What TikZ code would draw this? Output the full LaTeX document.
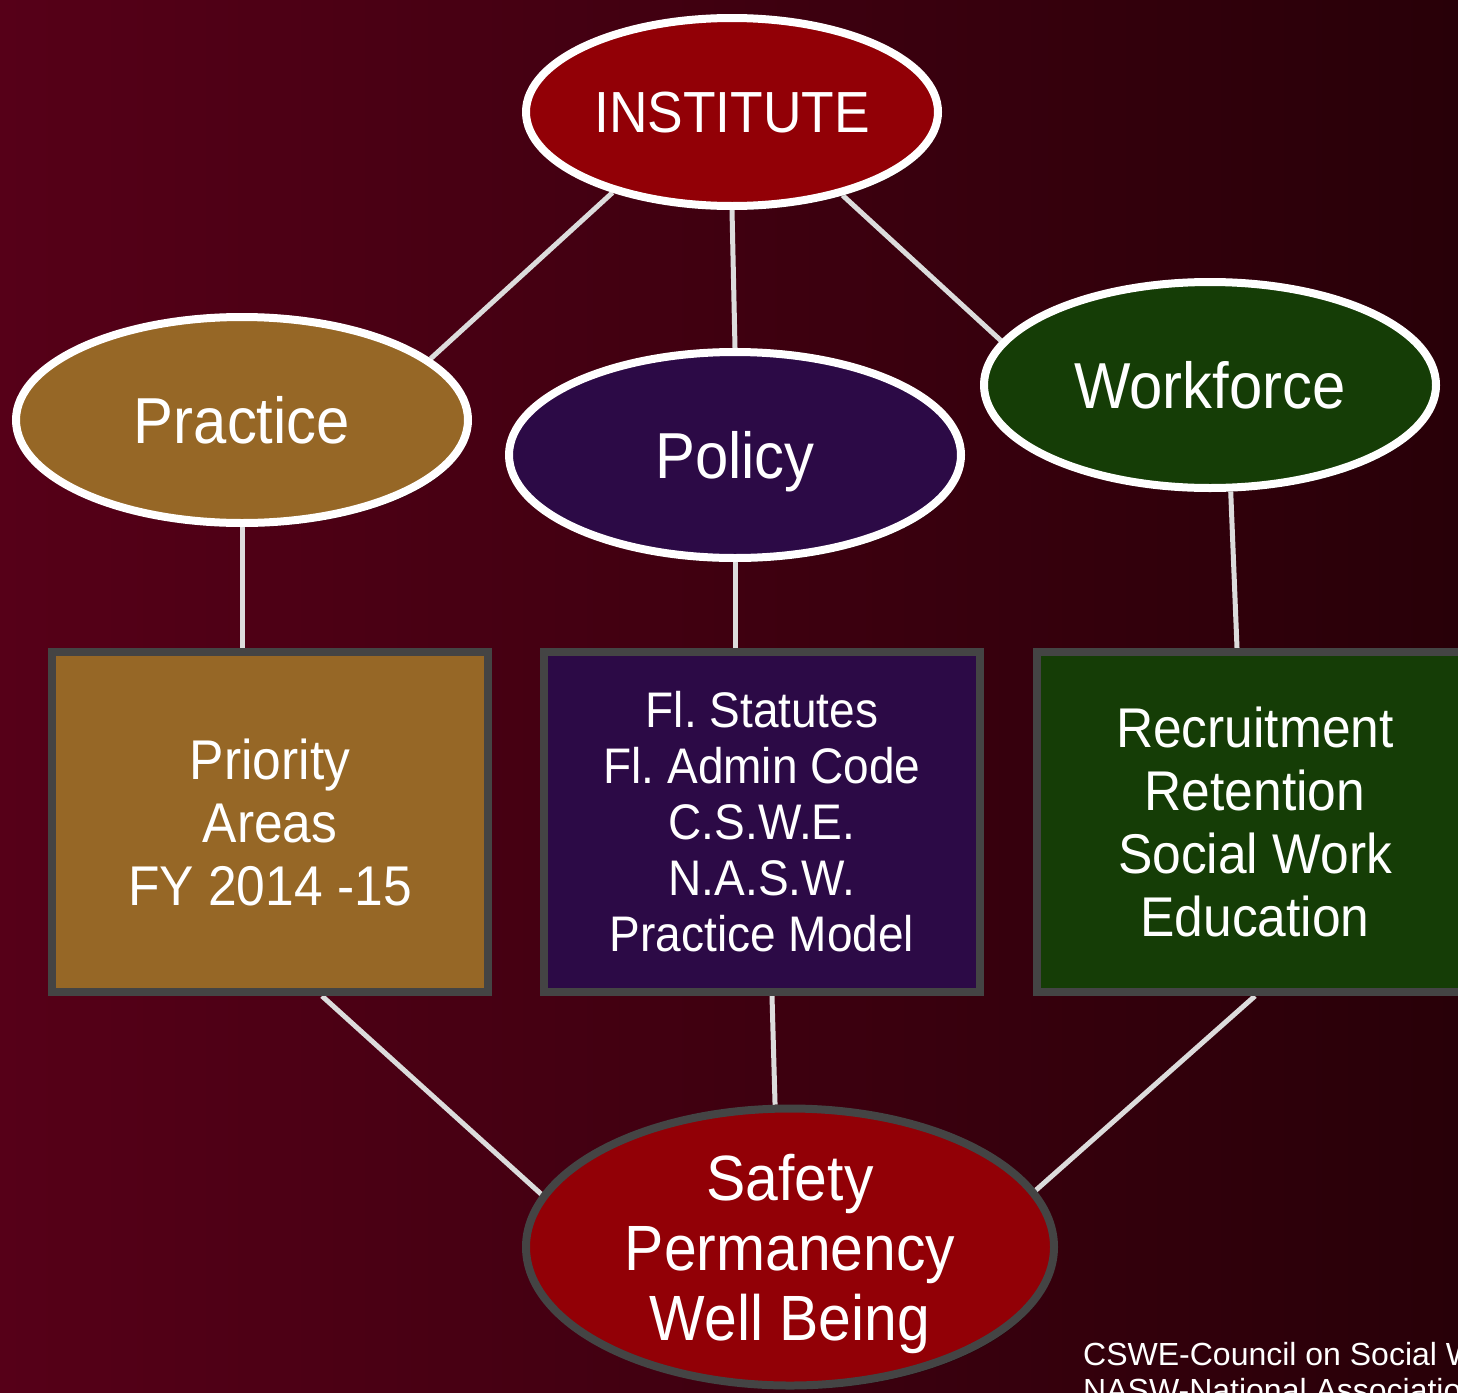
\documentclass[tikz,border=0pt]{standalone}
\usepackage{fontspec}
\setmainfont{Liberation Sans}
\newfontfamily\diagfont{Liberation Sans}[FakeStretch=0.92]
\usetikzlibrary{shapes.geometric,shadows,positioning,calc}

\definecolor{bgleft}{RGB}{86,0,24}
\definecolor{bgright}{RGB}{40,0,8}
\definecolor{instred}{RGB}{146,0,6}
\definecolor{pracgold}{RGB}{150,103,38}
\definecolor{polpurple}{RGB}{44,10,70}
\definecolor{workgreen}{RGB}{21,61,6}
\definecolor{boxgray}{RGB}{68,68,68}
\definecolor{linkgray}{RGB}{220,220,220}

\pgfdeclarelayer{back}
\pgfdeclarelayer{links}
\pgfsetlayers{back,links,main}

\begin{document}
\begin{tikzpicture}[x=1pt,y=-1pt,
  shade below/.style={drop shadow={shadow xshift=2pt, shadow yshift=-4pt, opacity=0.35, fill=black}},
  oval/.style={ellipse, draw=white, line width=8pt, inner sep=0pt, text=white, align=center, shade below},
  topic/.style={oval, minimum width=452pt, minimum height=206pt, text depth=0pt,
    font=\diagfont\fontsize{65}{70}\selectfont},
  card/.style={rectangle, draw=boxgray, line width=8pt, minimum width=436pt, minimum height=340pt,
    inner sep=0pt, text=white, align=center},
  link/.style={draw=linkgray, line width=5pt}]
\useasboundingbox (0,0) rectangle (1458,1392);
\clip (0,0) rectangle (1458,1392);
\begin{pgfonlayer}{back}
  \shade[left color=bgleft, right color=bgright] (0,0) rectangle (1458,1392);
\end{pgfonlayer}

% top level
\node[oval, fill=instred, minimum width=412pt, minimum height=188pt, text depth=0pt,
  font=\diagfont\fontsize{58}{64}\selectfont] (inst) at (732,112) {INSTITUTE};

% the three areas
\node[topic, fill=pracgold] (prac) at (242,420) {Practice};
\node[topic, fill=polpurple] (pol) at (735,455) {Policy};
\node[topic, fill=workgreen] (work) at (1210,385) {Workforce};

% the three boxes
\node[card, fill=pracgold, font=\diagfont\fontsize{56}{63}\selectfont] (prio) at (270,822)
  {Priority\\Areas\\FY 2014 -15};
\node[card, fill=polpurple, font=\diagfont\fontsize{50}{56}\selectfont] (rules) at (762,822)
  {Fl.\ Statutes\\Fl.\ Admin Code\\C.S.W.E.\\N.A.S.W.\\Practice Model};
\node[card, fill=workgreen, font=\diagfont\fontsize{56}{63}\selectfont] (staff) at (1255,822)
  {Recruitment\\Retention\\Social Work\\Education};

% outcome
\node[oval, draw=boxgray, fill=instred, minimum width=528pt, minimum height=277pt, text depth=0pt,
  font=\diagfont\fontsize{64}{70}\selectfont] (safe) at (790,1247)
  {Safety\\Permanency\\Well Being};

% connectors
\begin{pgfonlayer}{links}
  \draw[link] (inst.214) -- (prac.18);
  \draw[link] (inst.south) -- (pol.north);
  \draw[link] (inst.323) -- (work.168);
  \draw[link] (prac.south) -- (prac.south |- prio.north);
  \draw[link] (pol.south) -- (pol.south |- rules.north);
  \draw[link] (work.281) -- ([xshift=-18pt]staff.north);
  \draw[link] ([xshift=52pt]prio.south) -- (safe.168);
  \draw[link] ([xshift=10pt]rules.south) -- (safe.96);
  \draw[link] (staff.south) -- (safe.13);
\end{pgfonlayer}

% sources
\node[anchor=base west, inner sep=0pt, text=white, font=\fontsize{32}{36}\selectfont]
  (cswe) at (1083,1365) {CSWE-Council on Social Work Education};
\node[anchor=base west, inner sep=0pt, text=white, font=\fontsize{32}{36}\selectfont]
  (nasw) at (1083,1401) {NASW-National Association of Social Workers};
\end{tikzpicture}
\end{document}
